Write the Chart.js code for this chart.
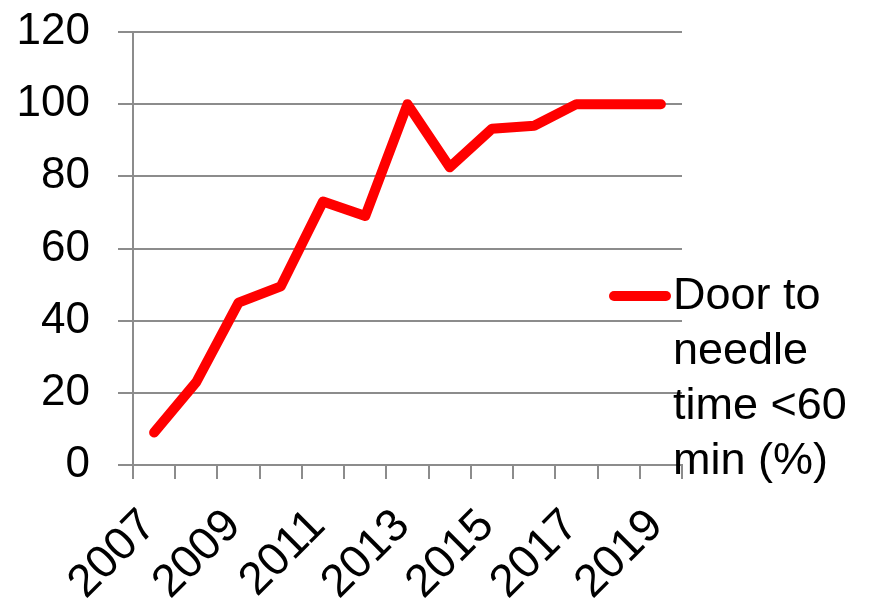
<!DOCTYPE html>
<html>
<head>
<meta charset="utf-8">
<script src="https://cdn.jsdelivr.net/npm/chart.js@4.4.1/dist/chart.umd.min.js"></script>
<style>
  html, body { margin: 0; padding: 0; background: #fff; }
  #wrap { width: 871px; height: 600px; position: relative; }
</style>
</head>
<body>
<div id="wrap"><canvas id="chart"></canvas></div>
<script>
// data
const years = ['2007', '2008', '2009', '2010', '2011', '2012', '2013',
               '2014', '2015', '2016', '2017', '2018', '2019'];
const doorToNeedle = [9, 23, 45, 49.5, 73, 69, 100, 82.5, 93.2, 94, 100, 100, 100];
const seriesLabel = 'Door to needle time <60 min (%)';
const yMin = 0;
const yMax = 120;
const yStep = 20;

const FONT_FAMILY = '"Liberation Sans", Arial, sans-serif';
const FONT_SIZE = 44;
const gridColor = '#8c8c8c';
const lineColor = '#ff0000';

Chart.defaults.font.family = FONT_FAMILY;
Chart.defaults.color = '#000';

// legend on the right, wrapped over several lines
const sideLegend = {
  id: 'sideLegend',
  afterDraw(chart) {
    const ctx = chart.ctx;
    const ds = chart.data.datasets[0];
    const textX = 673;
    const firstBaseline = 309;
    const lineH = 55;
    const maxW = chart.width - textX - 2;

    ctx.save();
    ctx.font = (FONT_SIZE + 1) + 'px ' + FONT_FAMILY;
    const words = ds.label.split(' ');
    const lines = [];
    let cur = '';
    words.forEach(w => {
      const test = cur ? cur + ' ' + w : w;
      if (cur && ctx.measureText(test).width > maxW) {
        lines.push(cur);
        cur = w;
      } else {
        cur = test;
      }
    });
    if (cur) lines.push(cur);

    // symbol
    ctx.strokeStyle = ds.borderColor;
    ctx.lineWidth = ds.borderWidth;
    ctx.lineCap = 'round';
    ctx.beginPath();
    ctx.moveTo(614, 296);
    ctx.lineTo(666, 296);
    ctx.stroke();

    ctx.fillStyle = '#000';
    ctx.textAlign = 'left';
    ctx.textBaseline = 'alphabetic';
    lines.forEach((t, i) => ctx.fillText(t, textX, firstBaseline + i * lineH));
    ctx.restore();
  }
};

new Chart(document.getElementById('chart'), {
  type: 'line',
  data: {
    labels: years,
    datasets: [{
      label: seriesLabel,
      data: doorToNeedle,
      borderColor: lineColor,
      backgroundColor: lineColor,
      borderWidth: 10,
      borderCapStyle: 'round',
      borderJoinStyle: 'round',
      pointRadius: 0,
      pointHoverRadius: 0,
      tension: 0,
      fill: false
    }]
  },
  options: {
    responsive: true,
    maintainAspectRatio: false,
    animation: false,
    layout: { padding: { top: 32, right: 189, bottom: 0, left: 0 } },
    plugins: {
      legend: { display: false },
      tooltip: { enabled: false },
      title: { display: false }
    },
    scales: {
      x: {
        offset: true,
        grid: {
          display: true,
          drawOnChartArea: false,
          drawTicks: true,
          tickLength: 14,
          offset: true,
          color: gridColor,
          lineWidth: 2
        },
        border: { display: true, color: gridColor, width: 2 },
        ticks: {
          autoSkip: false,
          minRotation: 45,
          maxRotation: 45,
          padding: 20,
          labelOffset: -5,
          font: { size: FONT_SIZE + 2 },
          color: '#000',
          callback: (v, i) => (i % 2 === 0 ? years[i] : '')
        },
        afterFit: (s) => {
          s.height = 135;
          s.paddingLeft = 0;
          s.paddingRight = 0;
        }
      },
      y: {
        min: yMin,
        max: yMax,
        grid: {
          color: gridColor,
          lineWidth: 2,
          drawTicks: true,
          tickLength: 15
        },
        border: { display: true, color: gridColor, width: 2 },
        ticks: {
          stepSize: yStep,
          padding: 28,
          font: { size: FONT_SIZE },
          color: '#000'
        },
        afterFit: (s) => {
          s.width = 133;
          s.paddingTop = 0;
          s.paddingBottom = 0;
        }
      }
    }
  },
  plugins: [sideLegend]
});
</script>
</body>
</html>
